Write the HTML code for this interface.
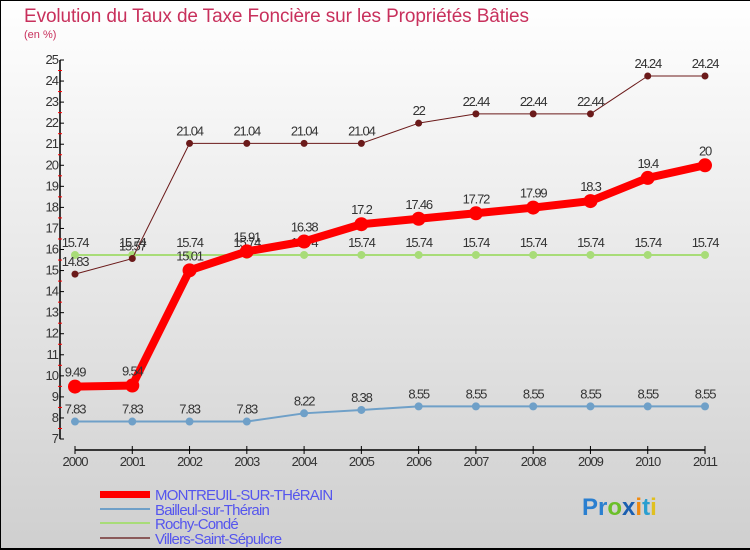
<!DOCTYPE html>
<html><head><meta charset="utf-8"><style>
body{margin:0}
#c{width:750px;height:550px;position:relative;background:linear-gradient(#ffffff,#cfcfcf);overflow:hidden;font-family:"Liberation Sans",sans-serif}
</style></head><body>
<div id="c">
<svg id="s" width="750" height="550" xmlns="http://www.w3.org/2000/svg">
<line x1="0.5" y1="0" x2="0.5" y2="550" stroke="#000"/>
<line x1="0" y1="0.5" x2="750" y2="0.5" stroke="#000"/>
<line x1="0" y1="549" x2="750" y2="549" stroke="#000" stroke-width="2"/>
<text x="24" y="22" font-size="19" fill="#c8305c" textLength="505">Evolution du Taux de Taxe Foncière sur les Propriétés Bâties</text>
<text x="24" y="38" font-size="11" fill="#c8305c">(en %)</text>
<g id="axes"></g><g id="series"></g>
<g>
<rect x="100" y="491" width="50" height="7" fill="#f00"/>
<line x1="100" y1="509" x2="150" y2="509" stroke="#6fa0c8" stroke-width="2"/>
<line x1="100" y1="523" x2="150" y2="523" stroke="#a8dc78" stroke-width="2"/>
<line x1="100" y1="538" x2="150" y2="538" stroke="#8a5a5a" stroke-width="2"/>
<g font-size="15" fill="#5555ee" letter-spacing="-0.8">
<text x="155" y="500">MONTREUIL-SUR-THéRAIN</text>
<text x="155" y="515">Bailleul-sur-Thérain</text>
<text x="155" y="529">Rochy-Condé</text>
<text x="155" y="544">Villers-Saint-Sépulcre</text>
</g></g>
<g font-size="24" font-weight="bold">
<text x="582" y="515"><tspan fill="#2a7fd0">Pr</tspan><tspan fill="#6bbf2a">o</tspan><tspan fill="#1b5fb0">x</tspan><tspan fill="#f08a10">i</tspan><tspan fill="#2a9fd0">t</tspan><tspan fill="#e0c020">i</tspan></text>
</g>
</svg></div>
<script>
const years=[2000,2001,2002,2003,2004,2005,2006,2007,2008,2009,2010,2011];
const montreuil=[9.49,9.54,15.01,15.91,16.38,17.2,17.46,17.72,17.99,18.3,19.4,20];
const bailleul=[7.83,7.83,7.83,7.83,8.22,8.38,8.55,8.55,8.55,8.55,8.55,8.55];
const rochy=[15.74,15.74,15.74,15.74,15.74,15.74,15.74,15.74,15.74,15.74,15.74,15.74];
const villers=[14.83,15.57,21.04,21.04,21.04,21.04,22,22.44,22.44,22.44,24.24,24.24];
const yTicks=[7,8,9,10,11,12,13,14,15,16,17,18,19,20,21,22,23,24,25];
const NS="http://www.w3.org/2000/svg";
const X=i=>75+i*(630/11);
const Y=v=>439-(v-7)*(379/18);
function mk(tag,attrs,parent){const e=document.createElementNS(NS,tag);for(const k in attrs)e.setAttribute(k,attrs[k]);parent.appendChild(e);return e;}
const ax=document.getElementById('axes');
let e=mk('line',{x1:60,y1:Y(25),x2:60,y2:Y(7),stroke:'#000','stroke-width':1.5},ax);


e=mk('line',{x1:75,y1:450,x2:705,y2:450,stroke:'#000','stroke-width':1.5},ax);


yTicks.forEach(v=>{
 mk('line',{x1:60,y1:Y(v),x2:64,y2:Y(v),stroke:'#000'},ax);
 if(v<25)mk('line',{x1:58,y1:Y(v+0.5),x2:62,y2:Y(v+0.5),stroke:'#f00'},ax);
 const t=mk('text',{x:58,y:Y(v)+4,'font-size':13,fill:'#333','text-anchor':'end','letter-spacing':'-1'},ax);t.textContent=v;
 
 
});
years.forEach((yr,i)=>{
 mk('line',{x1:X(i),y1:446,x2:X(i),y2:454,stroke:'#000'},ax);
 const t=mk('text',{x:X(i),y:466,'font-size':13,fill:'#333','text-anchor':'middle','letter-spacing':'-1'},ax);t.textContent=yr;
 
 
});
const sg=document.getElementById('series');
function series(vals,color,w,r,name){
 const g=mk('g',{},sg);
 
 
 mk('polyline',{points:vals.map((v,i)=>X(i)+','+Y(v)).join(' '),fill:'none',stroke:color,'stroke-width':w,'stroke-linejoin':'round'},g);
 vals.forEach((v,i)=>{
  const c=mk('circle',{cx:X(i),cy:Y(v),r:r,fill:color},g);
  
  
  const t=mk('text',{x:X(i),y:Y(v)-8-(r>5?2:0),'font-size':13,fill:'#333','text-anchor':'middle','letter-spacing':'-1.2'},g);t.textContent=v;
  
  
 });
}
series(rochy,'#a8dc78',2,4,'rochy-series');
series(villers,'#6b1a1a',1,3.5,'villers-series');
series(bailleul,'#6fa0c8',2,4,'bailleul-series');
series(montreuil,'#f00',8,7,'montreuil-series');
</script>
</body></html>
